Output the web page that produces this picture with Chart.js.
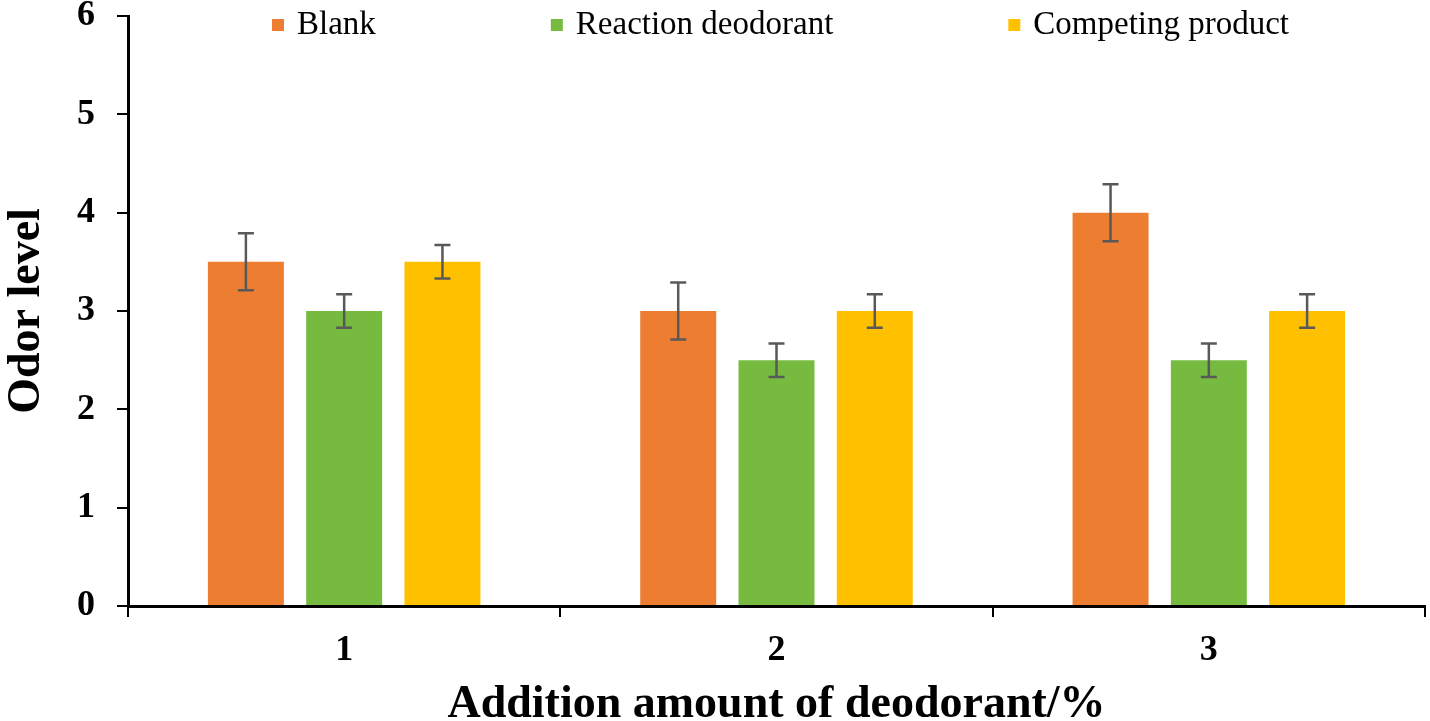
<!DOCTYPE html>
<html>
<head>
<meta charset="utf-8">
<script src="https://cdn.jsdelivr.net/npm/chart.js@4.4.0/dist/chart.umd.min.js"></script>
<style>
  body { margin: 0; background: #fff; }
  canvas { display: block; }
</style>
</head>
<body>
<canvas id="odorChart" width="1430" height="721"></canvas>
<script>
const categories = ["1", "2", "3"];
const seriesNames = ["Blank", "Reaction deodorant", "Competing product"];
const blank = [3.5, 3.0, 4.0];
const reaction = [3.0, 2.5, 2.5];
const competing = [3.5, 3.0, 3.0];
const blankErr = [0.29, 0.29, 0.29];
const reactionErr = [0.17, 0.17, 0.17];
const competingErr = [0.17, 0.17, 0.17];
const yTicks = [0, 1, 2, 3, 4, 5, 6];

const colors = ["#ED7D31", "#76BB40", "#FFC000"];
const serif = "'Liberation Serif', 'Times New Roman', serif";

// error bars drawn on top of each bar, using the y scale
const errorBars = {
  id: "errorBars",
  afterDatasetsDraw: (chart) => {
    const ctx = chart.ctx;
    const y = chart.scales.y;
    ctx.save();
    ctx.strokeStyle = "#595959";
    ctx.lineWidth = 2.5;
    chart.data.datasets.forEach((ds, i) => {
      const meta = chart.getDatasetMeta(i);
      meta.data.forEach((bar, j) => {
        const v = ds.data[j];
        const e = ds.errors[j];
        const top = y.getPixelForValue(v + e);
        const bot = y.getPixelForValue(v - e);
        ctx.beginPath();
        ctx.moveTo(bar.x, top);
        ctx.lineTo(bar.x, bot);
        ctx.moveTo(bar.x - 8, top);
        ctx.lineTo(bar.x + 8, top);
        ctx.moveTo(bar.x - 8, bot);
        ctx.lineTo(bar.x + 8, bot);
        ctx.stroke();
      });
    });
    ctx.restore();
  }
};

// legend sits inside the plot, like the Excel one
const innerLegend = {
  id: "innerLegend",
  afterDraw: (chart) => {
    const ctx = chart.ctx;
    const area = chart.chartArea;
    ctx.save();
    ctx.font = "33px " + serif;
    ctx.textBaseline = "middle";
    ctx.fillStyle = "#000";
    let x = area.left + 144;
    const yMid = area.top + 9;
    chart.data.datasets.forEach((ds) => {
      ctx.fillStyle = ds.backgroundColor;
      ctx.fillRect(x, yMid - 6, 12, 12);
      ctx.fillStyle = "#000";
      ctx.fillText(ds.label, x + 25, yMid);
      x += 25 + ctx.measureText(ds.label).width + 175;
    });
    ctx.restore();
  }
};

const makeSet = (i, values, errs) => ({
  label: seriesNames[i],
  data: values,
  errors: errs,
  backgroundColor: colors[i],
  borderWidth: 0,
  barPercentage: 0.773,
  categoryPercentage: 0.682
});

new Chart(document.getElementById("odorChart"), {
  type: "bar",
  data: {
    labels: categories,
    datasets: [
      makeSet(0, blank, blankErr),
      makeSet(1, reaction, reactionErr),
      makeSet(2, competing, competingErr)
    ]
  },
  options: {
    responsive: false,
    animation: false,
    layout: { padding: { top: 16, right: 5, left: 0, bottom: 0 } },
    plugins: {
      legend: { display: false },
      tooltip: { enabled: false }
    },
    scales: {
      x: {
        offset: true,
        grid: {
          offset: true,
          drawOnChartArea: false,
          drawTicks: true,
          tickLength: 11,
          color: "#000",
          lineWidth: 2
        },
        border: { color: "#000", width: 3 },
        ticks: {
          color: "#000",
          padding: 12,
          font: { family: serif, size: 36, weight: "bold" }
        },
        title: {
          display: true,
          text: "Addition amount of deodorant/%",
          color: "#000",
          padding: 0,
          font: { family: serif, size: 46, weight: "bold", lineHeight: 0.7 }
        },
        afterFit: (scale) => {
          scale.height = 115;
        }
      },
      y: {
        min: 0,
        max: 6,
        afterBuildTicks: (scale) => {
          scale.ticks = yTicks.map((v) => ({ value: v }));
        },
        grid: {
          drawOnChartArea: false,
          drawTicks: true,
          tickLength: 11,
          color: "#000",
          lineWidth: 2
        },
        border: { color: "#000", width: 3 },
        ticks: {
          color: "#000",
          padding: 22,
          font: { family: serif, size: 36, weight: "bold" }
        },
        title: {
          display: true,
          text: "Odor level",
          color: "#000",
          padding: 0,
          font: { family: serif, size: 46, weight: "bold", lineHeight: 1.2 }
        },
        afterFit: (scale) => {
          scale.width = 128;
          scale.paddingTop = 0;
          scale.paddingBottom = 0;
        }
      }
    }
  },
  plugins: [errorBars, innerLegend]
});
</script>
</body>
</html>
